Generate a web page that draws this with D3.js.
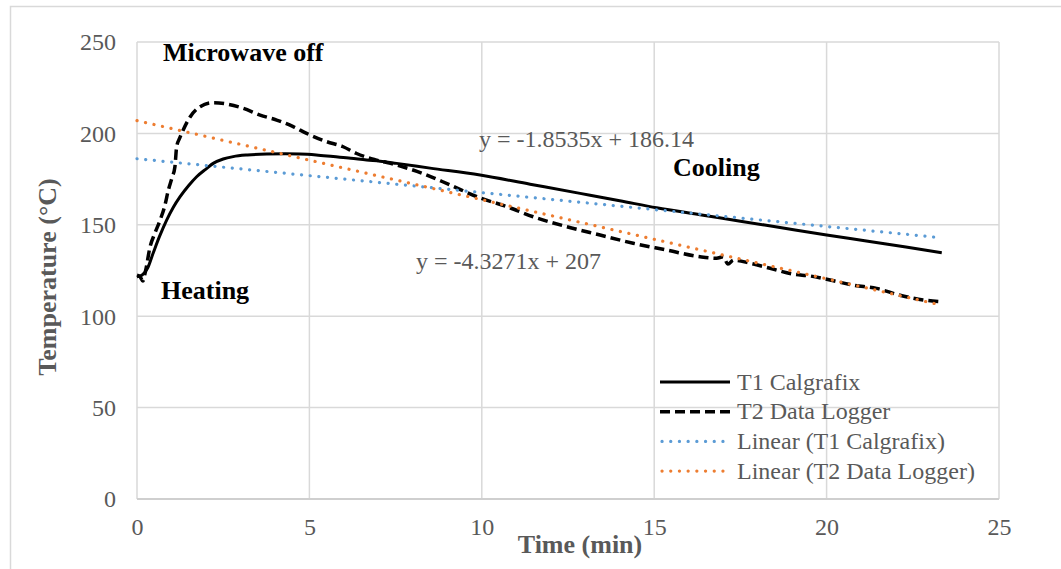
<!DOCTYPE html>
<html>
<head>
<meta charset="utf-8">
<script src="https://cdn.jsdelivr.net/npm/d3@7/dist/d3.min.js"></script>
<style>
  html, body { margin: 0; padding: 0; background: #fff; }
  svg { display: block; }
  text { font-family: "Liberation Serif", "Times New Roman", serif; }
</style>
</head>
<body>
<svg id="chart" width="1061" height="569"></svg>
<script>
// ---- Data ----
const t1Time = [0, 0.15, 0.3, 0.47, 0.65, 0.86, 1.05, 1.25, 1.5, 1.73, 2.0, 2.21, 2.5, 2.79, 3.2, 3.76, 4.3, 4.73, 5.2, 5.69, 6.2, 6.66, 7.05, 7.53, 8.5, 9.95, 11.4, 12.85, 14.0, 15.07, 16.33, 17.5, 18.65, 20.0, 21.2, 22.3, 23.34];
const t1Temp = [121.5, 122.5, 126, 134.6, 143.5, 152.6, 159.5, 165.4, 171.5, 176.3, 180.5, 183.6, 186, 187.3, 188.2, 188.7, 188.8, 188.7, 188.2, 187.3, 186.4, 185.4, 184.8, 183.6, 181, 177.2, 172.2, 167.2, 163.2, 159.3, 155.5, 152, 148.5, 144.4, 141, 137.8, 134.7];

const t2Time = [0, 0.09, 0.17, 0.25, 0.38, 0.52, 0.67, 0.8, 0.91, 1.02, 1.10, 1.15, 1.24, 1.34, 1.54, 1.83, 2.21, 2.60, 3.08, 3.57, 4.05, 4.53, 4.92, 5.50, 5.98, 6.37, 6.95, 7.53, 8.3, 9.08, 9.95, 10.72, 11.49, 12.46, 13.43, 14.39, 15.36, 16.33, 16.81, 17.0, 17.14, 17.3, 17.78, 18.36, 19.03, 19.52, 20.1, 20.77, 21.45, 22.1, 22.8, 23.3];
const t2Temp = [122.5, 121.6, 119.2, 125, 138, 145.5, 152.6, 160, 169, 176, 181.8, 192.7, 197.5, 201.9, 209, 214.6, 216.8, 216.1, 213.7, 210, 207.3, 203.7, 200, 195.5, 192.7, 189, 185.4, 182.7, 178, 171.8, 164.7, 160, 154.4, 149, 144.4, 139.9, 136.2, 132.5, 131.7, 132.5, 128.5, 130.7, 129, 126.2, 123, 122, 119.8, 117, 115.2, 111.6, 108.9, 108];

// Linear trendlines (Excel equations shown on the chart): [slope, intercept]
const trendT1 = [-1.8535, 186.14];
const trendT2 = [-4.3271, 207];
const trendRange = [0, 23.3];

const xTicks = [0, 5, 10, 15, 20, 25];
const yTicks = [0, 50, 100, 150, 200, 250];

const seriesNames = ["T1 Calgrafix", "T2 Data Logger", "Linear (T1 Calgrafix)", "Linear (T2 Data Logger)"];

// ---- Layout ----
const svg = d3.select("#chart");
const plot = { left: 137, right: 999, top: 42, bottom: 499 };

const x = d3.scaleLinear().domain([0, 25]).range([plot.left, plot.right]);
const y = d3.scaleLinear().domain([0, 250]).range([plot.bottom, plot.top]);

const grid = "#d9d9d9";
const labelColor = "#595959";

// chart border (top + left visible, others cropped)
svg.append("rect")
  .attr("x", 10.5).attr("y", 6.5)
  .attr("width", 1100).attr("height", 600)
  .attr("fill", "none").attr("stroke", grid).attr("stroke-width", 1.5);

// gridlines
const g = svg.append("g");
g.append("g").selectAll("line").data(yTicks).join("line")
  .attr("x1", plot.left).attr("x2", plot.right)
  .attr("y1", d => y(d)).attr("y2", d => y(d))
  .attr("stroke", grid).attr("stroke-width", 1.5);
g.append("g").selectAll("line").data(xTicks).join("line")
  .attr("x1", d => x(d)).attr("x2", d => x(d))
  .attr("y1", plot.top).attr("y2", plot.bottom)
  .attr("stroke", grid).attr("stroke-width", 1.5);

// axis line (bottom)
svg.append("line")
  .attr("x1", plot.left).attr("x2", plot.right)
  .attr("y1", plot.bottom).attr("y2", plot.bottom)
  .attr("stroke", "#cfcfcf").attr("stroke-width", 2);

// axes via d3 (labels only)
const xAxis = d3.axisBottom(x).tickValues(xTicks).tickSize(0).tickPadding(0);
const yAxis = d3.axisLeft(y).tickValues(yTicks).tickSize(0).tickPadding(0);

const xg = svg.append("g").attr("transform", `translate(0,${plot.bottom})`).call(xAxis);
xg.select(".domain").remove();
xg.selectAll("text")
  .attr("y", 36).attr("dy", null)
  .attr("font-size", 24).attr("fill", labelColor)
  .style("font-family", '"Liberation Serif", "Times New Roman", serif');

const yg = svg.append("g").attr("transform", `translate(${plot.left - 21},0)`).call(yAxis);
yg.select(".domain").remove();
yg.selectAll("text")
  .attr("x", 0).attr("dy", "0.33em")
  .attr("font-size", 24).attr("fill", labelColor)
  .style("font-family", '"Liberation Serif", "Times New Roman", serif');

// axis titles
svg.append("text")
  .attr("x", (plot.left + plot.right) / 2 + 12).attr("y", 553)
  .attr("text-anchor", "middle").attr("font-size", 26).attr("font-weight", "bold")
  .attr("fill", labelColor).text("Time (min)");

svg.append("text")
  .attr("transform", `translate(56,${277}) rotate(-90)`)
  .attr("text-anchor", "middle").attr("font-size", 26).attr("font-weight", "bold")
  .attr("fill", labelColor).text("Temperature (°C)");

// ---- Series ----
const line = d3.line().x(d => x(d[0])).y(d => y(d[1])).curve(d3.curveMonotoneX);
const lineLin = d3.line().x(d => x(d[0])).y(d => y(d[1]));

const t1 = t1Time.map((t, i) => [t, t1Temp[i]]);
const t2 = t2Time.map((t, i) => [t, t2Temp[i]]);
const tr1 = trendRange.map(t => [t, trendT1[0] * t + trendT1[1]]);
const tr2 = trendRange.map(t => [t, trendT2[0] * t + trendT2[1]]);

const styles = [
  { color: "#000", width: 3, dash: null, cap: "butt" },
  { color: "#000", width: 3.5, dash: "10,5", cap: "butt" },
  { color: "#5B9BD5", width: 3.2, dash: "0.1,8.6", cap: "round" },
  { color: "#ED7D31", width: 3.2, dash: "0.1,8.6", cap: "round" }
];

svg.append("path").datum(t1).attr("d", line)
  .attr("fill", "none").attr("stroke", styles[0].color).attr("stroke-width", styles[0].width)
  .attr("stroke-linejoin", "round");
svg.append("path").datum(t2).attr("d", line)
  .attr("fill", "none").attr("stroke", styles[1].color).attr("stroke-width", styles[1].width)
  .attr("stroke-dasharray", styles[1].dash).attr("stroke-linejoin", "round");
svg.append("path").datum(tr1).attr("d", lineLin)
  .attr("fill", "none").attr("stroke", styles[2].color).attr("stroke-width", styles[2].width)
  .attr("stroke-dasharray", styles[2].dash).attr("stroke-linecap", "round");
svg.append("path").datum(tr2).attr("d", lineLin)
  .attr("fill", "none").attr("stroke", styles[3].color).attr("stroke-width", styles[3].width)
  .attr("stroke-dasharray", styles[3].dash).attr("stroke-linecap", "round");

// ---- Annotations ----
const bold = [
  { text: "Microwave off", x: 163, y: 61 },
  { text: "Heating", x: 161, y: 299 },
  { text: "Cooling", x: 673, y: 176 }
];
svg.append("g").selectAll("text").data(bold).join("text")
  .attr("x", d => d.x).attr("y", d => d.y)
  .attr("font-size", 26).attr("font-weight", "bold").attr("fill", "#000")
  .text(d => d.text);

const eqs = [
  { text: "y = -1.8535x + 186.14", x: 479, y: 147 },
  { text: "y = -4.3271x + 207", x: 416, y: 269 }
];
svg.append("g").selectAll("text").data(eqs).join("text")
  .attr("x", d => d.x).attr("y", d => d.y)
  .attr("font-size", 24).attr("fill", labelColor)
  .text(d => d.text);

// ---- Legend ----
const legend = svg.append("g").attr("transform", "translate(660,382)");
const rowH = 29.7;
seriesNames.forEach((name, i) => {
  const row = legend.append("g").attr("transform", `translate(0,${i * rowH})`);
  const s = styles[i];
  row.append("line")
    .attr("x1", i >= 2 ? 2 : 0).attr("x2", i >= 2 ? 68 : 70)
    .attr("y1", 0).attr("y2", 0)
    .attr("stroke", s.color).attr("stroke-width", s.width)
    .attr("stroke-dasharray", s.dash).attr("stroke-linecap", s.cap);
  row.append("text")
    .attr("x", 77).attr("y", 7.5)
    .attr("font-size", 24).attr("fill", labelColor)
    .text(name);
});
</script>
</body>
</html>
